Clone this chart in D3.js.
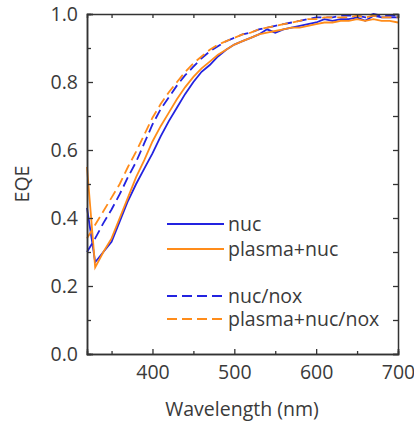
<!DOCTYPE html>
<html>
<head>
<meta charset="utf-8">
<script src="https://cdn.jsdelivr.net/npm/d3@7"></script>
<style>
  body { margin: 0; background: #fff; }
  svg text { font-family: "Open Sans", sans-serif; fill: #3a3a3a; }
</style>
</head>
<body>
<svg id="chart" width="414" height="429"></svg>
<script>
// wavelengths in nm
var wavelength = [320,330,340,350,360,370,380,390,400,410,420,430,440,450,460,470,480,490,500,510,520,530,540,550,560,570,580,590,600,610,620,630,640,650,660,670,680,690,700];

var nuc = [0.43,0.27,0.30,0.33,0.39,0.45,0.50,0.545,0.59,0.64,0.685,0.725,0.765,0.80,0.83,0.85,0.875,0.895,0.91,0.92,0.93,0.94,0.955,0.945,0.955,0.96,0.965,0.97,0.975,0.985,0.98,0.985,0.985,0.99,0.98,0.995,0.99,0.99,0.99];
var plasmaNuc = [0.55,0.255,0.30,0.34,0.40,0.46,0.52,0.57,0.625,0.67,0.71,0.75,0.785,0.815,0.84,0.86,0.88,0.895,0.91,0.92,0.93,0.94,0.945,0.95,0.955,0.96,0.96,0.965,0.97,0.975,0.975,0.98,0.98,0.985,0.98,0.985,0.98,0.98,0.975];
var nucNox = [0.30,0.34,0.385,0.425,0.47,0.52,0.565,0.62,0.675,0.72,0.755,0.79,0.82,0.845,0.87,0.89,0.905,0.92,0.93,0.94,0.945,0.955,0.96,0.965,0.97,0.975,0.98,0.985,0.99,0.99,0.99,0.995,0.995,0.995,0.99,1.0,0.995,0.995,0.995];
var plasmaNucNox = [0.34,0.38,0.42,0.46,0.50,0.55,0.595,0.645,0.695,0.735,0.77,0.80,0.83,0.855,0.875,0.895,0.91,0.92,0.93,0.94,0.945,0.955,0.96,0.965,0.97,0.975,0.98,0.985,0.985,0.99,0.99,0.99,0.99,0.995,0.99,0.995,0.99,0.99,0.99];

var seriesNames = ["nuc","plasma+nuc","nuc/nox","plasma+nuc/nox"];
var xTicks = [400,500,600,700];
var yTicks = [0.0,0.2,0.4,0.6,0.8,1.0];

var blue = "#2323e0", orange = "#ff8c1a";
var series = [
  {name: seriesNames[0], values: nuc, color: blue, dash: null},
  {name: seriesNames[1], values: plasmaNuc, color: orange, dash: null},
  {name: seriesNames[2], values: nucNox, color: blue, dash: "10,5"},
  {name: seriesNames[3], values: plasmaNucNox, color: orange, dash: "10,5"}
];

var svg = d3.select("#chart");
var m = {left: 87, right: 398, top: 14, bottom: 354};
var fontSize = 19.5;

var x = d3.scaleLinear().domain([320, 700]).range([m.left, m.right]);
var y = d3.scaleLinear().domain([0, 1]).range([m.bottom, m.top]);

var line = d3.line()
  .x(function(d, i){ return x(wavelength[i]); })
  .y(function(d){ return y(d); });

var plot = svg.append("g");
series.forEach(function(s){
  plot.append("path")
    .attr("d", line(s.values))
    .attr("fill", "none")
    .attr("stroke", s.color)
    .attr("stroke-width", 1.8)
    .attr("stroke-dasharray", s.dash);
});

// frame + inward ticks
var axisColor = "#333";
var xMinor = d3.range(350, 700, 100);
var yMinor = [0.1, 0.3, 0.5, 0.7, 0.9];

var bottomAx = svg.append("g").attr("transform", "translate(0," + m.bottom + ")")
  .call(d3.axisBottom(x).tickValues(xTicks).tickSize(-5).tickFormat(d3.format("d")).tickPadding(11));
var bottomMinor = svg.append("g").attr("transform", "translate(0," + m.bottom + ")")
  .call(d3.axisBottom(x).tickValues(xMinor).tickSize(-3).tickFormat(""));
var topAx = svg.append("g").attr("transform", "translate(0," + m.top + ")")
  .call(d3.axisTop(x).tickValues(xTicks.concat(xMinor)).tickSize(-4).tickFormat(""));
var leftAx = svg.append("g").attr("transform", "translate(" + m.left + ",0)")
  .call(d3.axisLeft(y).tickValues(yTicks).tickSize(-6).tickFormat(d3.format(".1f")).tickPadding(9));
var leftMinor = svg.append("g").attr("transform", "translate(" + m.left + ",0)")
  .call(d3.axisLeft(y).tickValues(yMinor).tickSize(-4).tickFormat(""));
var rightAx = svg.append("g").attr("transform", "translate(" + m.right + ",0)")
  .call(d3.axisRight(y).tickValues(yTicks.concat(yMinor)).tickSize(-5).tickFormat(""));

[bottomAx, bottomMinor, topAx, leftAx, leftMinor, rightAx].forEach(function(g){
  g.selectAll(".domain").attr("stroke", axisColor).attr("stroke-width", 1.5);
  g.selectAll(".tick line").attr("stroke", axisColor).attr("stroke-width", 1.3);
  g.selectAll(".tick text").attr("font-size", fontSize).attr("fill", "#3a3a3a")
    .style("font-family", "'Open Sans', sans-serif");
});

// axis titles
svg.append("text")
  .attr("x", 242).attr("y", 416)
  .attr("text-anchor", "middle").attr("font-size", fontSize)
  .text("Wavelength (nm)");
svg.append("text")
  .attr("transform", "translate(29," + ((m.top + m.bottom) / 2) + ") rotate(-90)")
  .attr("text-anchor", "middle").attr("font-size", fontSize)
  .text("EQE");

// legend
var legendY = [224, 249, 296, 319];
var lg = svg.append("g");
series.forEach(function(s, i){
  lg.append("line")
    .attr("x1", 167).attr("x2", 224)
    .attr("y1", legendY[i]).attr("y2", legendY[i])
    .attr("stroke", s.color).attr("stroke-width", 1.8)
    .attr("stroke-dasharray", s.dash);
  lg.append("text")
    .attr("x", 228).attr("y", legendY[i]).attr("dy", "0.35em")
    .attr("font-size", fontSize)
    .text(s.name);
});
</script>
</body>
</html>
